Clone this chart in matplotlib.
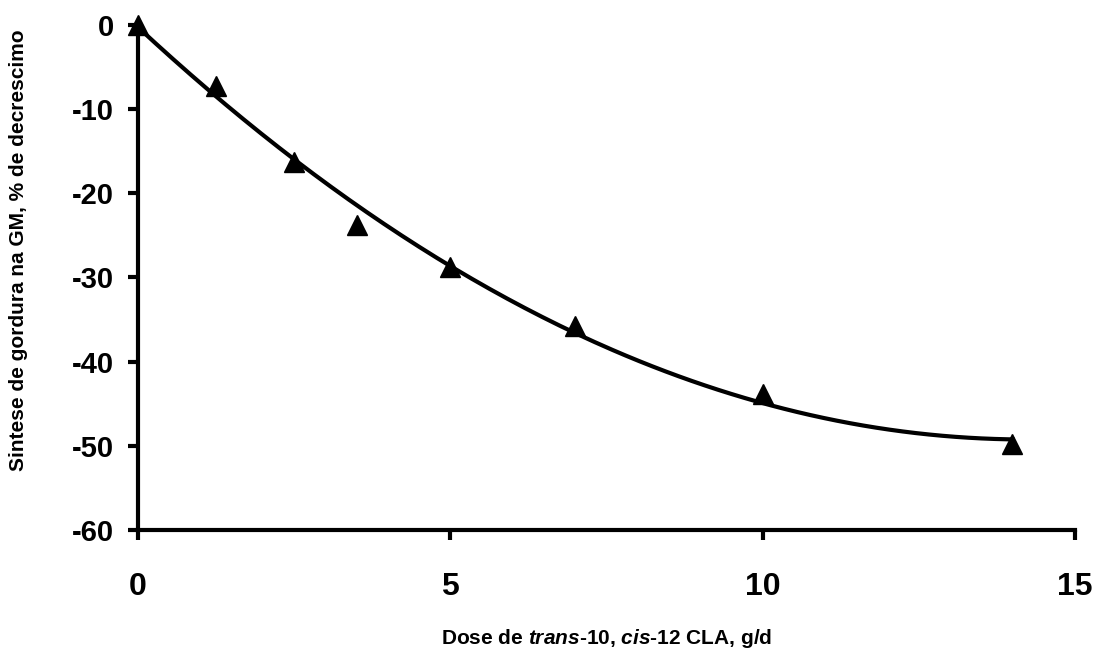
import numpy as np
import matplotlib
matplotlib.use("Agg")
import matplotlib.pyplot as plt

# Dados
dose = [0, 1.25, 2.5, 3.5, 5, 7, 10, 14]
decrescimo = [0, -7.2, -16.3, -23.8, -28.7, -35.8, -43.9, -49.8]

x_ticks = [0, 5, 10, 15]
y_ticks = [0, -10, -20, -30, -40, -50, -60]

plt.rcParams["font.family"] = "Liberation Sans"
plt.rcParams["font.weight"] = "bold"
plt.rcParams["axes.unicode_minus"] = False
plt.rcParams["mathtext.fontset"] = "custom"
plt.rcParams["mathtext.it"] = "Liberation Sans:italic:bold"
plt.rcParams["mathtext.rm"] = "Liberation Sans:bold"

fig = plt.figure(figsize=(11.01, 6.51), dpi=100)
ax = fig.add_axes([0.1253, 0.1859, 0.851, 0.7757])

# curva de tendência quadrática ajustada aos pontos
coef = np.polyfit(dose, decrescimo, 2)
xs = np.linspace(0, max(dose), 200)
ax.plot(xs, np.polyval(coef, xs), color="black", lw=3, clip_on=False)
ax.plot(dose, decrescimo, linestyle="none", marker="^", color="black",
        markersize=15, clip_on=False, zorder=3)

ax.set_xlim(0, 15)
ax.set_ylim(-60, 0)
ax.set_xticks(x_ticks)
ax.set_yticks(y_ticks)

for s in ["top", "right"]:
    ax.spines[s].set_visible(False)
for s in ["left", "bottom"]:
    ax.spines[s].set_linewidth(3)

ax.tick_params(axis="x", direction="out", length=7.5, width=3, pad=23, labelsize=23)
ax.tick_params(axis="y", direction="out", length=7.5, width=3, pad=10, labelsize=21)

ax.set_xlabel(r"Dose de $\mathit{trans}$-10, $\mathit{cis}$-12 CLA, g/d",
              fontsize=15, fontweight="bold")
ax.set_ylabel("Sintese de gordura na GM, % de decrescimo",
              fontsize=15, fontweight="bold")
ax.xaxis.set_label_coords(0.5, -0.193)
ax.yaxis.set_label_coords(-0.117, 0.554)

plt.savefig("out.png", dpi=100)
